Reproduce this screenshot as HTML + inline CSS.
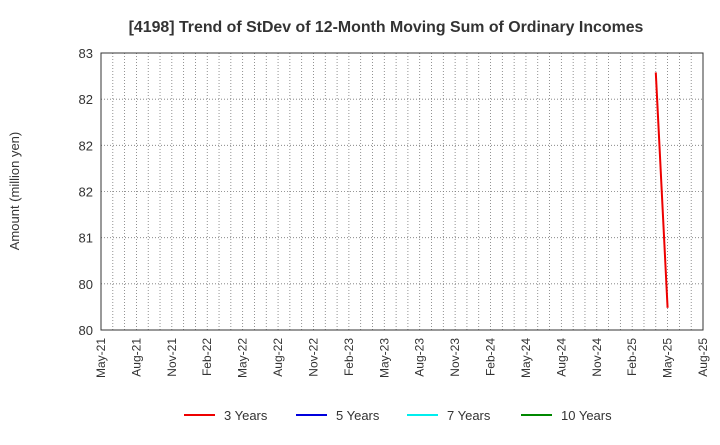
<!DOCTYPE html>
<html><head><meta charset="utf-8"><style>
body{margin:0;background:#fff;font-family:"Liberation Sans",sans-serif;}
svg text{font-family:"Liberation Sans",sans-serif;fill:#333;}
</style></head><body>
<svg id="chart" width="720" height="440">
<text x="386" y="32" text-anchor="middle" font-size="15.9" font-weight="bold">[4198]  Trend of StDev of 12-Month Moving Sum of Ordinary Incomes</text>
<text transform="translate(19,191) rotate(-90)" text-anchor="middle" font-size="13">Amount (million yen)</text>
<g id="grid"></g><g id="ticks"></g><g id="series"></g>
<rect x="101" y="53" width="602" height="277" fill="none" stroke="#333" stroke-width="1"/>
<g id="legend"></g>
</svg>
<script>
const yTicks=[80,80.5,81,81.5,82,82.5,83];
const yTickLabels=["80","80","81","82","82","82","83"];
const xTickLabels=["May-21","Aug-21","Nov-21","Feb-22","May-22","Aug-22","Nov-22","Feb-23","May-23","Aug-23","Nov-23","Feb-24","May-24","Aug-24","Nov-24","Feb-25","May-25","Aug-25"];
const seriesNames=["3 Years","5 Years","7 Years","10 Years"];
const seriesColors=["#e00","#00d","#0ee","#080"];
const s3Months=[47,48];
const s3Values=[82.79,80.24];
const L=101,R=703,T=53,B=330,NM=51;
const ns="http://www.w3.org/2000/svg";
const X=m=>L+(R-L)*m/NM;
const Y=v=>B-(B-T)*(v-80)/3;
function mk(tag,attrs,parent){const e=document.createElementNS(ns,tag);for(const k in attrs)e.setAttribute(k,attrs[k]);document.getElementById(parent).appendChild(e);return e;}
for(let m=1;m<NM;m++){const l=mk('line',{x1:X(m),x2:X(m),y1:T,y2:B,stroke:'#777','stroke-dasharray':'1,2','stroke-width':0.8},'grid');

}
yTicks.forEach((v,i)=>{
 if(i>0&&i<yTicks.length-1){const l=mk('line',{x1:L,x2:R,y1:Y(v),y2:Y(v),stroke:'#777','stroke-dasharray':'1,2','stroke-width':0.8},'grid');
 
 }
 const t=mk('text',{x:L-8,y:Y(v)+5,'text-anchor':'end','font-size':13},'ticks');t.textContent=yTickLabels[i];
 
 
});
xTickLabels.forEach((s,i)=>{const x=X(i*3);
 const t=mk('text',{transform:`translate(${x+4},338) rotate(-90)`,'text-anchor':'end','font-size':12},'ticks');t.textContent=s;
 
 
});
const p=mk('polyline',{points:s3Months.map((m,i)=>X(m)+','+Y(s3Values[i])).join(' '),fill:'none',stroke:seriesColors[0],'stroke-width':2},'series');


const lx=[184,296,407,521];
seriesNames.forEach((n,i)=>{
 const l=mk('line',{x1:lx[i],x2:lx[i]+31,y1:415,y2:415,stroke:seriesColors[i],'stroke-width':2},'legend');
 
 
 const t=mk('text',{x:lx[i]+40,y:420,'font-size':13},'legend');t.textContent=n;
 
 
});
</script>
</body></html>
